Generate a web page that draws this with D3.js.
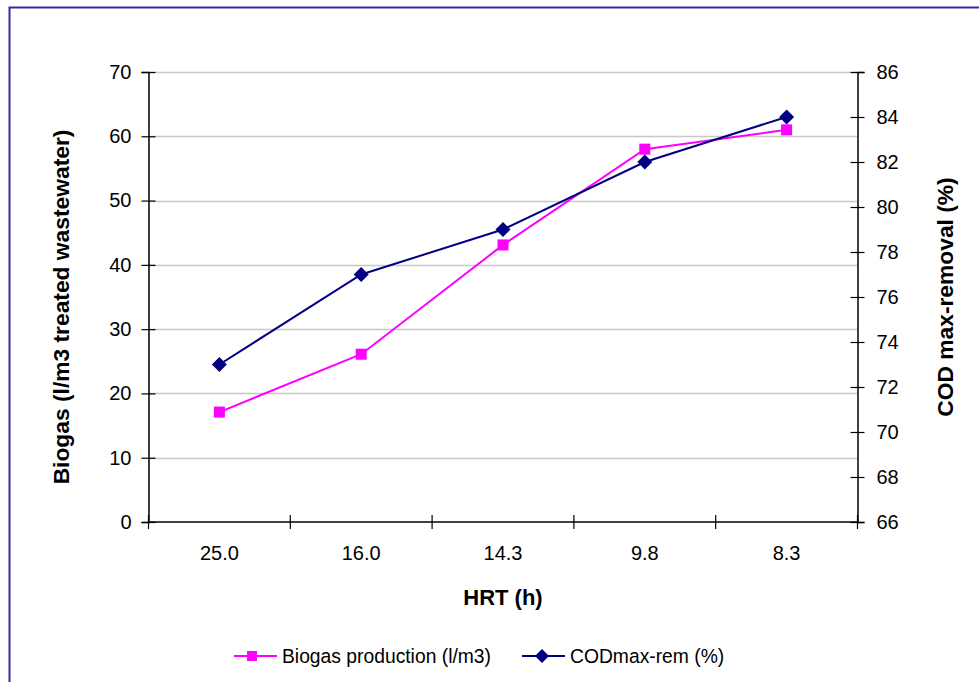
<!DOCTYPE html>
<html>
<head>
<meta charset="utf-8">
<script src="https://cdn.jsdelivr.net/npm/d3@7"></script>
<style>
  body { margin: 0; background: #fff; }
  svg { display: block; font-family: "Liberation Sans", Arial, sans-serif; }
</style>
</head>
<body>
<svg id="chart" width="979" height="682"></svg>
<script>
// HRT categories (h) and the two measured series
const categories = ["25.0", "16.0", "14.3", "9.8", "8.3"];
const biogas = [17.1, 26.1, 43.1, 58, 61];      // l/m3 treated wastewater
const codRemoval = [73, 77, 79, 82, 84];       // %
const leftTicks = [0, 10, 20, 30, 40, 50, 60, 70];
const rightTicks = [66, 68, 70, 72, 74, 76, 78, 80, 82, 84, 86];

const svg = d3.select("#chart");
const W = 979, H = 682;
const plot = { left: 148.5, right: 857.5, top: 72, bottom: 522 };

svg.append("rect").attr("width", W).attr("height", H).attr("fill", "#fff");

// outer chart border
svg.append("rect")
  .attr("x", 9.5).attr("y", 7.5)
  .attr("width", W + 20).attr("height", H + 20)
  .attr("fill", "none").attr("stroke", "#2e2e9c").attr("stroke-width", 2);

const x = d3.scaleBand().domain(categories).range([plot.left, plot.right]).padding(0);
const yL = d3.scaleLinear().domain([0, 70]).range([plot.bottom, plot.top]);
const yR = d3.scaleLinear().domain([66, 86]).range([plot.bottom, plot.top]);
const cx = d => x(d) + x.bandwidth() / 2;

// horizontal gridlines on the left-axis ticks
svg.append("g").selectAll("line").data(leftTicks.filter(t => t > 0)).join("line")
  .attr("x1", plot.left).attr("x2", plot.right)
  .attr("y1", d => Math.round(yL(d)) + 0.5).attr("y2", d => Math.round(yL(d)) + 0.5)
  .attr("stroke", "#c8c8c8").attr("stroke-width", 1.3);

const tickFont = "20px";

// left axis
const gL = svg.append("g").attr("transform", `translate(${plot.left},0)`)
  .call(d3.axisLeft(yL).tickValues(leftTicks).tickSize(7).tickPadding(10).tickFormat(d3.format("d")));
gL.selectAll(".tick line").attr("x2", 7).attr("x1", -7);
// right axis
const gR = svg.append("g").attr("transform", `translate(${plot.right},0)`)
  .call(d3.axisRight(yR).tickValues(rightTicks).tickSize(7).tickPadding(12).tickFormat(d3.format("d")));
gR.selectAll(".tick line").attr("x2", 7).attr("x1", -7);

[gL, gR].forEach(g => {
  g.select(".domain").attr("stroke", "#000").attr("stroke-width", 1.5);
  g.selectAll(".tick line").attr("stroke", "#000").attr("stroke-width", 1.2);
  g.selectAll(".tick text").attr("font-size", tickFont).attr("fill", "#000")
    .attr("font-family", "Liberation Sans, Arial, sans-serif");
});

// bottom axis: labels at band centres, cross ticks at band edges
const gB = svg.append("g").attr("transform", `translate(0,${plot.bottom})`)
  .call(d3.axisBottom(x).tickSize(0).tickPadding(24));
gB.select(".domain").remove();
gB.selectAll(".tick text").attr("font-size", tickFont).attr("fill", "#000")
  .attr("font-family", "Liberation Sans, Arial, sans-serif");
gB.append("line").attr("x1", plot.left).attr("x2", plot.right).attr("y1", 0).attr("y2", 0)
  .attr("stroke", "#000").attr("stroke-width", 1.5);
const edges = categories.map(c => x(c)).concat([plot.right]);
gB.selectAll("line.edge").data(edges).join("line").attr("class", "edge")
  .attr("x1", d => d).attr("x2", d => d).attr("y1", -7).attr("y2", 7)
  .attr("stroke", "#000").attr("stroke-width", 1.2);

// axis titles
svg.append("text").attr("x", 503).attr("y", 605).attr("text-anchor", "middle")
  .attr("font-size", "22px").attr("font-weight", "bold").text("HRT (h)");
svg.append("text").attr("transform", "translate(69,307) rotate(-90)").attr("text-anchor", "middle")
  .attr("font-size", "22.8px").attr("font-weight", "bold").text("Biogas (l/m3 treated wastewater)");
svg.append("text").attr("transform", "translate(953,297) rotate(-90)").attr("text-anchor", "middle")
  .attr("font-size", "22.8px").attr("font-weight", "bold").text("COD max-removal (%)");

// series lines
const bioColor = "#ff00ff", codColor = "#000080";
const lineL = d3.line().x((d, i) => cx(categories[i])).y(d => yL(d));
const lineR = d3.line().x((d, i) => cx(categories[i])).y(d => yR(d));
svg.append("path").datum(biogas).attr("d", lineL)
  .attr("fill", "none").attr("stroke", bioColor).attr("stroke-width", 2);
svg.append("path").datum(codRemoval).attr("d", lineR)
  .attr("fill", "none").attr("stroke", codColor).attr("stroke-width", 2);

// markers
const sq = 11, dm = 7.5;
svg.append("g").selectAll("rect").data(biogas).join("rect")
  .attr("x", (d, i) => cx(categories[i]) - sq / 2).attr("y", d => yL(d) - sq / 2)
  .attr("width", sq).attr("height", sq).attr("fill", bioColor);
const diamond = (px, py) => `M${px},${py - dm}L${px + dm},${py}L${px},${py + dm}L${px - dm},${py}Z`;
svg.append("g").selectAll("path").data(codRemoval).join("path")
  .attr("d", (d, i) => diamond(cx(categories[i]), yR(d))).attr("fill", codColor);

// legend
const leg = svg.append("g");
const legY = 656;
leg.append("line").attr("x1", 234).attr("x2", 277).attr("y1", legY).attr("y2", legY)
  .attr("stroke", bioColor).attr("stroke-width", 2);
leg.append("rect").attr("x", 252 - 5).attr("y", legY - 5).attr("width", 10).attr("height", 10).attr("fill", bioColor);
leg.append("text").attr("x", 282).attr("y", legY + 7).attr("font-size", "19.3px").text("Biogas production (l/m3)");
leg.append("line").attr("x1", 522).attr("x2", 565).attr("y1", legY).attr("y2", legY)
  .attr("stroke", codColor).attr("stroke-width", 2);
leg.append("path").attr("d", `M542,${legY - 7}L549,${legY}L542,${legY + 7}L535,${legY}Z`).attr("fill", codColor);
leg.append("text").attr("x", 570).attr("y", legY + 7).attr("font-size", "19.3px").text("CODmax-rem (%)");
</script>
</body>
</html>
